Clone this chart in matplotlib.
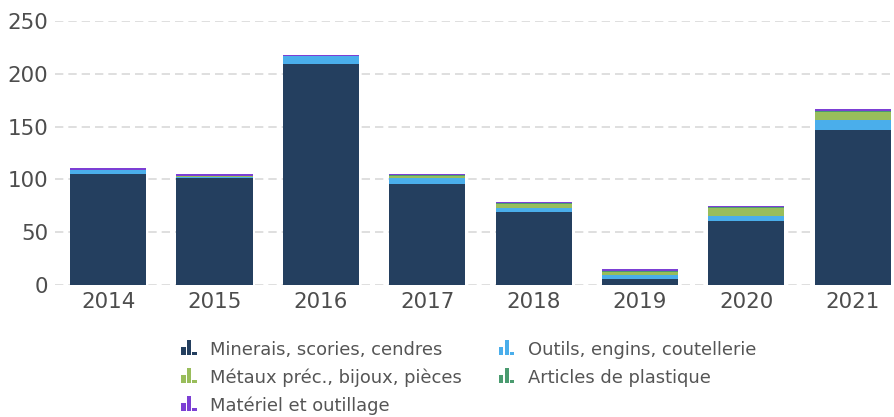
import numpy as np
import matplotlib
matplotlib.use('Agg')
import matplotlib.pyplot as plt
from matplotlib.patches import Rectangle

#input data
years = ['2014', '2015', '2016', '2017', '2018', '2019', '2020', '2021']
series_names = ['Minerais, scories, cendres', 'Outils, engins, coutellerie',
                'Métaux préc., bijoux, pièces', 'Articles de plastique',
                'Matériel et outillage']
minerais = [105.0, 101.5, 209.5, 95.6, 69.1, 5.7, 60.6, 147.0]
outils = [3.8, 0.3, 7.5, 5.7, 3.8, 3.8, 4.7, 9.5]
metaux = [0.3, 1.3, 0.2, 1.9, 4.2, 3.0, 7.2, 7.5]
plastique = [0.2, 0.4, 0.1, 0.6, 0.5, 0.8, 0.9, 0.6]
materiel = [1.5, 1.2, 0.6, 1.2, 1.2, 1.8, 1.2, 2.0]
yticks = [0, 50, 100, 150, 200, 250]

colors = ['#243f5f', '#4aaeeb', '#99bd5b', '#4a9b6f', '#7c3fd4']

W, H = 894, 417
fig = plt.figure(figsize=(W/100, H/100), dpi=100)
ax = fig.add_axes([55/W, 132/H, 839/W, 264/H])

x = np.arange(len(years))
bottom = np.zeros(len(years))
for vals, c in zip([minerais, outils, metaux, plastique, materiel], colors):
    ax.bar(x, vals, width=0.715, bottom=bottom, color=c, linewidth=0, zorder=3)
    bottom += np.array(vals)

ax.set_xlim(-0.5, 7.39)
ax.set_ylim(0, 250)
ax.set_yticks(yticks)
ax.set_xticks(x)
ax.set_xticklabels(years)
ax.yaxis.grid(True, color='#d9d9d9', linestyle=(0, (5, 3)), linewidth=1.2, zorder=0)
ax.xaxis.grid(False)
for s in ax.spines.values():
    s.set_visible(False)
ax.tick_params(axis='both', length=0, labelsize=15.4, labelcolor='#4d4d4d')
ax.tick_params(axis='y', pad=5)
ax.tick_params(axis='x', pad=5)

#legend drawn by hand (small bar-chart icons)
legend_pos = [(181, 350), (499, 350), (181, 378), (499, 378), (181, 406)]
for (px, py), name, c in zip(legend_pos, series_names, colors):
    base = py + 5
    for dx, h in [(0, 8), (5.5, 15), (11, 3.5)]:
        fig.patches.append(Rectangle(((px+dx)/W, 1-base/H), 4.5/W, h/H,
                                     transform=fig.transFigure, facecolor=c,
                                     linewidth=0))
    fig.text((px+29)/W, 1-py/H, name, fontsize=12.9, color='#555555',
             va='center', ha='left')

plt.savefig('out.png', dpi=100)
